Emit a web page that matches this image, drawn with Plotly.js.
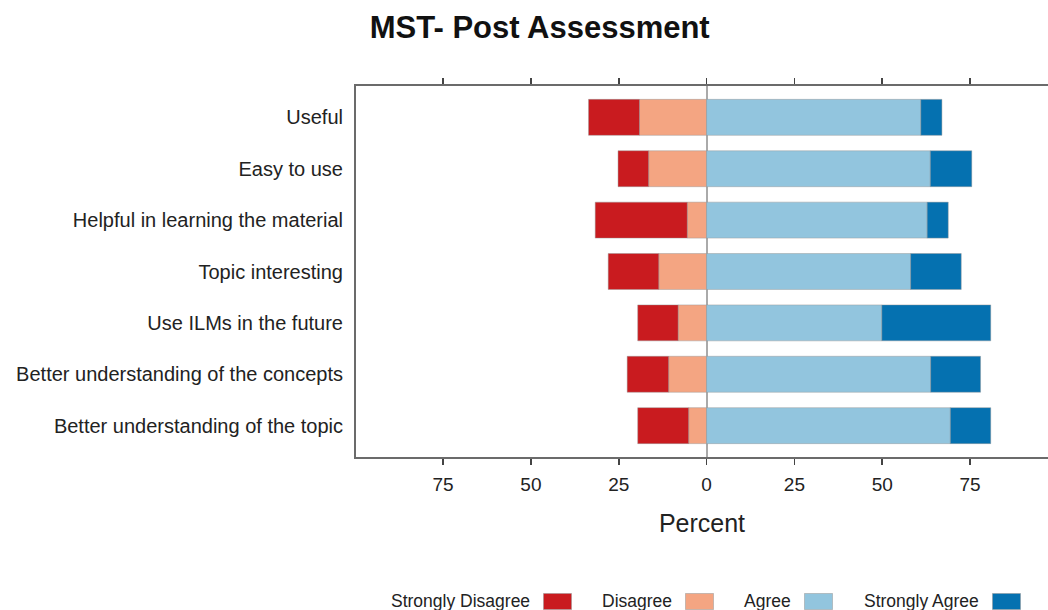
<!DOCTYPE html>
<html>
<head>
<meta charset="utf-8">
<script src="https://cdn.plot.ly/plotly-3.0.1.min.js"></script>
<style>html,body{margin:0;padding:0;background:#fff;}#chart{width:1048px;height:610px;}</style>
</head>
<body>
<div id="chart"></div>
<script>
var categories = [
  "Useful",
  "Easy to use",
  "Helpful in learning the material",
  "Topic interesting",
  "Use ILMs in the future",
  "Better understanding of the concepts",
  "Better understanding of the topic"
];
var stronglyDisagree = [14.5, 8.7, 26.2, 14.4, 11.5, 11.8, 14.5];
var disagree         = [19.1, 16.5, 5.5, 13.6, 8.1, 10.8, 5.1];
var agree            = [61.0, 63.7, 62.8, 58.1, 49.9, 63.8, 69.4];
var stronglyAgree    = [6.0, 11.8, 6.0, 14.4, 31.0, 14.2, 11.5];
var levelNames = ["Strongly Disagree", "Disagree", "Agree", "Strongly Agree"];
var tickValues = [-75, -50, -25, 0, 25, 50, 75];
var tickLabels = ["75", "50", "25", "0", "25", "50", "75"];

var colors = {
  "Strongly Disagree": "#C91B1F",
  "Disagree": "#F4A582",
  "Agree": "#92C5DE",
  "Strongly Agree": "#0571B0"
};
var FONT = "Liberation Sans, Arial, Helvetica, sans-serif";

function neg(a){ return a.map(function(v){ return -v; }); }
function mk(name, vals){
  return {
    type: "bar", orientation: "h", name: name,
    y: categories, x: vals,
    marker: {color: colors[name], line: {color: "rgba(150,150,150,0.45)", width: 1}},
    showlegend: false,
    hovertemplate: name + ": %{customdata:.1f}%<extra></extra>",
    customdata: vals.map(Math.abs)
  };
}
var traces = [
  mk("Disagree", neg(disagree)),
  mk("Strongly Disagree", neg(stronglyDisagree)),
  mk("Agree", agree),
  mk("Strongly Agree", stronglyAgree)
];

// custom legend: text followed by a colour swatch, as in the reference
var W = 1048, ML = 356, MR = 0, MT = 86, MB = 153;
var plotW = W - ML - MR, plotH = 610 - MT - MB;
var swatchCenters = [557, 699, 818, 1006];
var legendY = 601;
var annotations = [];
levelNames.forEach(function(n, i){
  var cx = swatchCenters[i];
  annotations.push({
    xref: "paper", yref: "paper",
    x: (cx - 15 - 10 - ML) / plotW, y: (610 - MB - legendY) / plotH,
    xanchor: "right", yanchor: "middle", showarrow: false,
    text: n, font: {family: FONT, size: 17.5, color: "#222"}
  });
  annotations.push({
    xref: "paper", yref: "paper",
    x: (cx - ML) / plotW, y: (610 - MB - legendY) / plotH,
    xanchor: "center", yanchor: "middle", showarrow: false,
    text: " ", width: 27, height: 15, bgcolor: colors[n],
    bordercolor: "rgba(150,150,150,0.5)", borderwidth: 1, borderpad: 0,
    font: {family: FONT, size: 10}
  });
});

var layout = {
  width: 1048, height: 610,
  margin: {l: ML, r: MR, t: MT, b: MB, pad: 0},
  paper_bgcolor: "#fff", plot_bgcolor: "#fff",
  barmode: "relative", bargap: 0.3,
  title: {text: "<b>MST- Post Assessment</b>", x: 0.515, xref: "container", xanchor: "center",
          y: 0.955, yref: "container", yanchor: "middle",
          font: {family: FONT, size: 31, color: "#111"}},
  xaxis: {
    range: [-99.8, 97.2], tickvals: tickValues, ticktext: tickLabels,
    ticks: "outside", ticklen: 6, tickwidth: 1.5, tickcolor: "#444",
    showline: true, linecolor: "#6b6b6b", linewidth: 2, mirror: "ticks",
    showgrid: false, zeroline: true, zerolinecolor: "#aaaaaa", zerolinewidth: 2,
    tickfont: {family: FONT, size: 19, color: "#222"},
    ticklabelstandoff: 3,
    title: {text: "Percent", font: {family: FONT, size: 25, color: "#222"}, standoff: 21},
    fixedrange: true
  },
  yaxis: {
    type: "category", categoryorder: "array", categoryarray: categories,
    range: [6.61, -0.61],
    showline: true, linecolor: "#6b6b6b", linewidth: 2, mirror: false,
    ticks: "", showgrid: false, zeroline: false,
    tickfont: {family: FONT, size: 20, color: "#222"},
    ticklabelstandoff: 7,
    fixedrange: true
  },
  annotations: annotations
};

Plotly.newPlot("chart", traces, layout, {displayModeBar: false, staticPlot: true});
</script>
</body>
</html>
